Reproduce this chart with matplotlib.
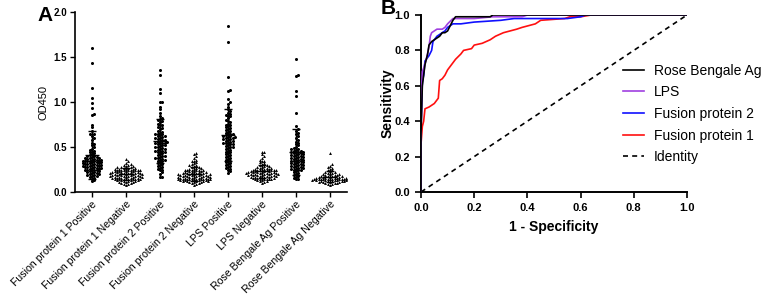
import numpy as np
import matplotlib
matplotlib.use("Agg")
import matplotlib.pyplot as plt

plt.rcParams['font.family'] = ['Liberation Sans', 'DejaVu Sans']

# ---- panel A data (OD450 per sample) ----
groups = ["Fusion protein 1 Positive", "Fusion protein 1 Negative",
          "Fusion protein 2 Positive", "Fusion protein 2 Negative",
          "LPS Positive", "LPS Negative",
          "Rose Bengale Ag Positive", "Rose Bengale Ag Negative"]

fp1_pos = [1.60, 1.43, 1.16, 1.05, 0.99, 0.93, 0.87, 0.86, 0.75, 0.72, 0.68,
           0.64, 0.64, 0.62, 0.60, 0.58, 0.55, 0.53, 0.52, 0.50, 0.48, 0.47, 0.46, 0.45,
           0.44, 0.43, 0.42, 0.41, 0.40, 0.40, 0.39, 0.39, 0.38, 0.38, 0.38, 0.37, 0.37,
           0.36, 0.36, 0.36, 0.35, 0.35, 0.35, 0.34, 0.34, 0.34, 0.33, 0.33, 0.33, 0.32,
           0.32, 0.32, 0.31, 0.31, 0.31, 0.30, 0.30, 0.30, 0.29, 0.29, 0.29, 0.28, 0.28,
           0.28, 0.27, 0.27, 0.27, 0.26, 0.26, 0.25, 0.25, 0.25, 0.24, 0.24, 0.23, 0.23,
           0.22, 0.22, 0.21, 0.21, 0.20, 0.20, 0.19, 0.19, 0.18, 0.18, 0.17, 0.16, 0.15,
           0.13, 0.12]
fp1_neg = [0.37, 0.34, 0.32, 0.31, 0.30, 0.30, 0.29, 0.29, 0.28, 0.28, 0.28, 0.27,
           0.27, 0.27, 0.26, 0.26, 0.26, 0.26, 0.25, 0.25, 0.25, 0.25, 0.24, 0.24, 0.24,
           0.24, 0.23, 0.23, 0.23, 0.23, 0.22, 0.22, 0.22, 0.22, 0.22, 0.21, 0.21, 0.21,
           0.21, 0.21, 0.20, 0.20, 0.20, 0.20, 0.20, 0.19, 0.19, 0.19, 0.19, 0.19, 0.18,
           0.18, 0.18, 0.18, 0.18, 0.17, 0.17, 0.17, 0.17, 0.17, 0.16, 0.16, 0.16, 0.16,
           0.16, 0.15, 0.15, 0.15, 0.15, 0.14, 0.14, 0.14, 0.14, 0.13, 0.13, 0.13, 0.13,
           0.12, 0.12, 0.12, 0.11, 0.11, 0.11, 0.10, 0.10, 0.09, 0.09, 0.08]
fp2_pos = [1.35, 1.30, 1.14, 1.10, 1.00, 1.00, 0.95, 0.92, 0.88, 0.84, 0.82, 0.81,
           0.80, 0.79, 0.78, 0.76, 0.75, 0.74, 0.72, 0.71, 0.70, 0.68, 0.67, 0.66, 0.65,
           0.64, 0.64, 0.63, 0.62, 0.62, 0.61, 0.60, 0.60, 0.59, 0.58, 0.58, 0.57, 0.56,
           0.56, 0.55, 0.55, 0.54, 0.54, 0.53, 0.52, 0.52, 0.51, 0.50, 0.50, 0.49, 0.48,
           0.48, 0.47, 0.46, 0.46, 0.45, 0.44, 0.44, 0.43, 0.42, 0.41, 0.40, 0.40, 0.39,
           0.38, 0.38, 0.37, 0.36, 0.36, 0.35, 0.34, 0.33, 0.32, 0.31, 0.30, 0.29, 0.28,
           0.27, 0.26, 0.25, 0.24, 0.22, 0.20, 0.17, 0.17]
fp2_neg = [0.43, 0.42, 0.40, 0.38, 0.36, 0.35, 0.34, 0.33, 0.32, 0.31, 0.30, 0.30,
           0.29, 0.28, 0.28, 0.27, 0.27, 0.26, 0.26, 0.25, 0.25, 0.25, 0.24, 0.24, 0.24,
           0.23, 0.23, 0.23, 0.22, 0.22, 0.22, 0.22, 0.21, 0.21, 0.21, 0.21, 0.20, 0.20,
           0.20, 0.20, 0.20, 0.19, 0.19, 0.19, 0.19, 0.19, 0.18, 0.18, 0.18, 0.18, 0.18,
           0.17, 0.17, 0.17, 0.17, 0.17, 0.16, 0.16, 0.16, 0.16, 0.16, 0.15, 0.15, 0.15,
           0.15, 0.15, 0.14, 0.14, 0.14, 0.14, 0.14, 0.13, 0.13, 0.13, 0.13, 0.13, 0.12,
           0.12, 0.12, 0.12, 0.12, 0.11, 0.11, 0.11, 0.10, 0.10, 0.09, 0.08]
lps_pos = [1.84, 1.67, 1.28, 1.13, 1.12, 1.03, 1.00, 0.98, 0.95, 0.92, 0.90, 0.88,
           0.87, 0.86, 0.85, 0.84, 0.82, 0.80, 0.79, 0.78, 0.76, 0.75, 0.74, 0.73, 0.72,
           0.71, 0.70, 0.69, 0.68, 0.67, 0.66, 0.65, 0.64, 0.64, 0.63, 0.62, 0.62, 0.61,
           0.61, 0.60, 0.60, 0.59, 0.59, 0.58, 0.57, 0.57, 0.56, 0.55, 0.55, 0.54, 0.53,
           0.53, 0.52, 0.51, 0.50, 0.50, 0.49, 0.48, 0.47, 0.46, 0.45, 0.44, 0.43, 0.42,
           0.41, 0.40, 0.39, 0.38, 0.37, 0.36, 0.35, 0.34, 0.33, 0.32, 0.31, 0.30, 0.29,
           0.28, 0.27, 0.26, 0.25, 0.23, 0.21]
lps_neg = [0.45, 0.44, 0.42, 0.40, 0.38, 0.36, 0.35, 0.34, 0.33, 0.32, 0.31, 0.30,
           0.30, 0.29, 0.29, 0.28, 0.28, 0.27, 0.27, 0.27, 0.26, 0.26, 0.26, 0.25, 0.25,
           0.25, 0.25, 0.24, 0.24, 0.24, 0.24, 0.23, 0.23, 0.23, 0.23, 0.22, 0.22, 0.22,
           0.22, 0.22, 0.21, 0.21, 0.21, 0.21, 0.21, 0.20, 0.20, 0.20, 0.20, 0.20, 0.19,
           0.19, 0.19, 0.19, 0.19, 0.18, 0.18, 0.18, 0.18, 0.17, 0.17, 0.17, 0.17, 0.16,
           0.16, 0.16, 0.16, 0.15, 0.15, 0.15, 0.14, 0.14, 0.14, 0.13, 0.13, 0.12, 0.12,
           0.11, 0.10]
rb_pos = [1.48, 1.30, 1.29, 1.12, 1.07, 0.88, 0.73, 0.70, 0.68, 0.66, 0.64, 0.62,
          0.60, 0.58, 0.56, 0.55, 0.53, 0.52, 0.50, 0.49, 0.48, 0.48, 0.47, 0.46, 0.46,
          0.45, 0.45, 0.44, 0.44, 0.43, 0.43, 0.42, 0.42, 0.41, 0.41, 0.40, 0.40, 0.39,
          0.39, 0.38, 0.38, 0.37, 0.37, 0.36, 0.36, 0.35, 0.35, 0.34, 0.34, 0.33, 0.33,
          0.32, 0.32, 0.31, 0.31, 0.30, 0.30, 0.29, 0.29, 0.28, 0.28, 0.27, 0.27, 0.26,
          0.26, 0.25, 0.25, 0.24, 0.23, 0.22, 0.21, 0.20, 0.19, 0.18, 0.17, 0.16, 0.15,
          0.14]
rb_neg = [0.43, 0.31, 0.29, 0.28, 0.27, 0.26, 0.25, 0.24, 0.23, 0.22, 0.22, 0.21,
          0.21, 0.20, 0.20, 0.20, 0.19, 0.19, 0.19, 0.18, 0.18, 0.18, 0.18, 0.17, 0.17,
          0.17, 0.17, 0.16, 0.16, 0.16, 0.16, 0.16, 0.15, 0.15, 0.15, 0.15, 0.15, 0.15,
          0.14, 0.14, 0.14, 0.14, 0.14, 0.14, 0.13, 0.13, 0.13, 0.13, 0.13, 0.13, 0.12,
          0.12, 0.12, 0.12, 0.12, 0.11, 0.11, 0.11, 0.11, 0.10, 0.10, 0.10, 0.09, 0.09,
          0.08]

group_data = [fp1_pos, fp1_neg, fp2_pos, fp2_neg, lps_pos, lps_neg, rb_pos, rb_neg]

# ---- panel B data (ROC points: 1-specificity, sensitivity) ----
rb_fpr = [0, 0, 0.005, 0.01, 0.015, 0.02, 0.025, 0.03, 0.04, 0.05, 0.06, 0.07, 0.08,
          0.09, 0.10, 0.11, 0.12, 0.13, 0.26, 0.27, 1.0]
rb_tpr = [0, 0.33, 0.60, 0.66, 0.72, 0.75, 0.78, 0.83, 0.85, 0.86, 0.87, 0.88, 0.90,
          0.90, 0.91, 0.94, 0.97, 0.99, 0.99, 1.0, 1.0]
lps_fpr = [0, 0, 0.003, 0.005, 0.01, 0.02, 0.03, 0.035, 0.04, 0.05, 0.06, 0.08, 0.09,
           0.10, 0.12, 0.20, 0.27, 0.38, 0.40, 1.0]
lps_tpr = [0, 0.35, 0.60, 0.68, 0.70, 0.75, 0.82, 0.88, 0.90, 0.91, 0.92, 0.92, 0.93,
           0.95, 0.98, 0.98, 0.99, 0.99, 1.0, 1.0]
fp2_fpr = [0, 0, 0.005, 0.01, 0.015, 0.02, 0.03, 0.04, 0.045, 0.06, 0.08, 0.09, 0.10,
           0.11, 0.12, 0.15, 0.20, 0.30, 0.35, 0.55, 0.60, 0.62, 1.0]
fp2_tpr = [0, 0.35, 0.62, 0.66, 0.74, 0.75, 0.77, 0.80, 0.85, 0.88, 0.90, 0.91, 0.93,
           0.94, 0.95, 0.95, 0.96, 0.97, 0.98, 0.98, 0.99, 1.0, 1.0]
fp1_fpr = [0, 0, 0.005, 0.01, 0.015, 0.03, 0.05, 0.065, 0.07, 0.08, 0.09, 0.10, 0.11,
           0.13, 0.15, 0.16, 0.19, 0.20, 0.23, 0.26, 0.28, 0.31, 0.36, 0.38, 0.43, 0.45,
           0.54, 0.56, 0.60, 0.64, 1.0]
fp1_tpr = [0, 0.27, 0.37, 0.40, 0.47, 0.48, 0.50, 0.53, 0.63, 0.64, 0.66, 0.69, 0.71,
           0.75, 0.78, 0.80, 0.81, 0.83, 0.84, 0.86, 0.88, 0.90, 0.92, 0.93, 0.95, 0.97,
           0.98, 0.99, 0.99, 1.0, 1.0]


def swarm_offsets(vals, dx, dy):
    # simple beeswarm: place points in sorted order, nudging sideways until free
    order = np.argsort(vals)
    placed = []
    offs = np.zeros(len(vals))
    for i in order:
        y = vals[i]
        k = 0
        while True:
            cands = [0.0] if k == 0 else [k * dx, -k * dx]
            ok = None
            for c in cands:
                if all(((c - px) / dx) ** 2 + ((y - py) / dy) ** 2 >= 1.0 for px, py in placed):
                    ok = c
                    break
            if ok is not None:
                offs[i] = ok
                placed.append((ok, y))
                break
            k += 1
    return offs


fig = plt.figure(figsize=(7.65, 2.97), dpi=100)

# ---------------- panel A ----------------
axA = fig.add_axes([75 / 765, 105 / 297, 272 / 765, 180 / 297])
# collision spacing in data units (34 px per group, 90 px per OD unit)
dx = 2.3 / 34.0
dy = 2.3 / 90.0
for i, vals in enumerate(group_data):
    v = np.array(vals)
    off = swarm_offsets(v, dx, dy)
    mk = 'o' if i % 2 == 0 else '^'
    ms = 2.2 if i % 2 == 0 else 2.1
    axA.plot(i + off, v, linestyle='none', marker=mk, ms=ms, color='black', mew=0)
    m, s = v.mean(), v.std()
    axA.hlines(m, i - 0.2, i + 0.2, color='black', lw=1.0, zorder=3)
    axA.vlines(i, m - s, m + s, color='black', lw=1.0, zorder=3)
    axA.hlines([m - s, m + s], i - 0.12, i + 0.12, color='black', lw=1.0, zorder=3)

axA.set_xlim(-0.5, 7.5)
axA.set_ylim(0, 2.0)
axA.set_yticks([0, 0.5, 1.0, 1.5, 2.0])
axA.set_yticklabels(["0.0", "0.5", "1.0", "1.5", "2.0"], fontsize=7, fontweight='bold')
axA.set_xticks(range(len(groups)))
axA.set_xticklabels(groups, rotation=45, ha='right', rotation_mode='anchor', fontsize=7.6)
axA.set_ylabel("OD450", fontsize=8)
for sp in ['top', 'right']:
    axA.spines[sp].set_visible(False)
for sp in ['left', 'bottom']:
    axA.spines[sp].set_linewidth(1.2)
axA.tick_params(direction='out', length=3.5, width=1.0, pad=2)
axA.tick_params(axis='x', pad=1.5)
fig.text(37 / 765, 1 - 21 / 297, "A", fontsize=15, fontweight='bold')

# ---------------- panel B ----------------
axB = fig.add_axes([421 / 765, 105 / 297, 266 / 765, 177 / 297])
axB.plot(rb_fpr, rb_tpr, color='black', lw=1.2, label="Rose Bengale Ag", zorder=5)
axB.plot(lps_fpr, lps_tpr, color='#a040e0', lw=1.2, label="LPS", zorder=4)
axB.plot(fp2_fpr, fp2_tpr, color='#1010ff', lw=1.2, label="Fusion protein 2", zorder=3)
axB.plot(fp1_fpr, fp1_tpr, color='#ff1010', lw=1.2, label="Fusion protein 1", zorder=2)
axB.plot([0, 1], [0, 1], color='black', lw=1.2, ls=(0, (3, 2.5)), label="Identity")
axB.set_xlim(0, 1)
axB.set_ylim(0, 1)
ticks = [0, 0.2, 0.4, 0.6, 0.8, 1.0]
axB.set_xticks(ticks)
axB.set_yticks(ticks)
axB.set_xticklabels(["%.1f" % t for t in ticks], fontsize=8, fontweight='bold')
axB.set_yticklabels(["%.1f" % t for t in ticks], fontsize=8, fontweight='bold')
axB.set_xlabel("1 - Specificity", fontsize=10, fontweight='bold', labelpad=5)
axB.set_ylabel("Sensitivity", fontsize=10, fontweight='bold', labelpad=0)
for sp in ['top', 'right']:
    axB.spines[sp].set_visible(False)
for sp in ['left', 'bottom']:
    axB.spines[sp].set_linewidth(1.4)
axB.tick_params(direction='out', length=4, width=1.2, pad=4)
axB.legend(loc='upper left', bbox_to_anchor=(0.76, 0.725), frameon=False,
           fontsize=10, handlelength=1.5, handletextpad=0.7, labelspacing=0.55,
           borderpad=0, borderaxespad=0)
fig.text(381 / 765, 1 - 14 / 297, "B", fontsize=15, fontweight='bold')

fig.savefig("out.png", dpi=100)
